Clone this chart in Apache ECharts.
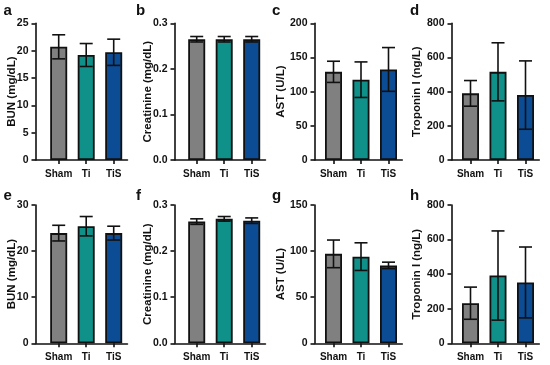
<!DOCTYPE html>
<html>
<head>
<meta charset="utf-8">
<script src="https://cdn.jsdelivr.net/npm/echarts@6/dist/echarts.min.js"></script>
<style>html,body{margin:0;padding:0;background:#fff}#c{width:550px;height:365px}</style>
</head>
<body>
<div id="c"></div>
<script>
// ---- data ----
const categories = ['Sham', 'Ti', 'TiS'];
const barColors = ['#808080', '#0f9189', '#0c4c94'];

const bunTopMean = [20.7, 19.2, 19.7];
const bunTopSD = [2.2, 2.1, 2.4];
const creaTopMean = [0.265, 0.265, 0.265];
const creaTopSD = [0.006, 0.006, 0.006];
const astTopMean = [129, 117.5, 132.5];
const astTopSD = [15.5, 26, 32];
const tropTopMean = [390, 516, 380];
const tropTopSD = [75, 170, 200];

const bunBotMean = [23.9, 25.4, 23.9];
const bunBotSD = [1.7, 2.1, 1.5];
const creaBotMean = [0.264, 0.270, 0.266];
const creaBotSD = [0.006, 0.005, 0.006];
const astBotMean = [97, 94, 84.5];
const astBotSD = [15, 15, 3.5];
const tropBotMean = [232, 392, 352];
const tropBotSD = [93, 258, 205];

const panelLetters = ['a', 'b', 'c', 'd', 'e', 'f', 'g', 'h'];
const yTitles = ['BUN (mg/dL)', 'Creatinine (mg/dL)', 'AST (U/L)', 'Troponin I (ng/L)',
                 'BUN (mg/dL)', 'Creatinine (mg/dL)', 'AST (U/L)', 'Troponin I (ng/L)'];
const yMax = [25, 0.3, 200, 800, 30, 0.3, 150, 800];
const yStep = [5, 0.1, 50, 200, 10, 0.1, 50, 200];
const yDecimals = [0, 1, 0, 0, 0, 1, 0, 0];
const means = [bunTopMean, creaTopMean, astTopMean, tropTopMean, bunBotMean, creaBotMean, astBotMean, tropBotMean];
const sds = [bunTopSD, creaTopSD, astTopSD, tropTopSD, bunBotSD, creaBotSD, astBotSD, tropBotSD];

// ---- layout ----
const FONT = '"Liberation Sans", Arial, Helvetica, sans-serif';
const axisX = [35.5, 174.5, 314.5, 451.5];
const firstCenter = [58.7, 196.7, 333.5, 470.5];
const band = 27.5;
const nameGaps = [18, 21, 27.5, 28.5];
const letterLeft = [3.5, 136, 272, 410];
const rowTop = [23.3, 205];
const rowBottom = [160, 343.3];
const letterTop = [3, 188.5];
const INK = '#111';

const grid = [], xAxis = [], yAxis = [], series = [], title = [];

for (let p = 0; p < 8; p++) {
  const col = p % 4, row = Math.floor(p / 4);
  const top = rowTop[row], h = rowBottom[row] - rowTop[row];
  const barsLeft = firstCenter[col] - band / 2;
  const barsW = band * 3;
  const axW = barsLeft + barsW - axisX[col];
  const gAx = grid.length;
  grid.push({left: axisX[col], top: top, width: axW, height: h, containLabel: false});
  grid.push({left: barsLeft, top: top, width: barsW, height: h, containLabel: false});
  const dec = yDecimals[p];
  xAxis.push({
    gridIndex: gAx, type: 'value', min: 0, max: 1,
    axisLine: {show: true, lineStyle: {color: INK, width: 1.6}},
    axisTick: {show: false}, axisLabel: {show: false}, splitLine: {show: false}
  });
  yAxis.push({
    gridIndex: gAx, type: 'value', min: 0, max: yMax[p], interval: yStep[p],
    axisLine: {show: true, lineStyle: {color: INK, width: 1.6}},
    axisTick: {show: true, length: 4, lineStyle: {color: INK, width: 1.6}},
    axisLabel: {show: true, margin: 7, color: INK, fontFamily: FONT, fontWeight: 'bold', fontSize: 10.5,
                formatter: v => v.toFixed(dec)},
    splitLine: {show: false},
    name: yTitles[p], nameLocation: 'middle', nameGap: nameGaps[col], nameMoveOverlap: false,
    nameTextStyle: {color: INK, fontFamily: FONT, fontWeight: 'bold', fontSize: 11.5}
  });
  xAxis.push({
    gridIndex: gAx + 1, type: 'category', data: categories,
    axisLine: {show: false},
    axisTick: {show: true, alignWithLabel: true, length: 4, lineStyle: {color: INK, width: 1.6}},
    axisLabel: {show: true, margin: 9, color: INK, fontFamily: FONT, fontWeight: 'bold', fontSize: 10, interval: 0},
    splitLine: {show: false}
  });
  yAxis.push({
    gridIndex: gAx + 1, type: 'value', min: 0, max: yMax[p], interval: yStep[p], show: false
  });
  const xi = xAxis.length - 1, yi = yAxis.length - 1;
  series.push({
    type: 'bar', xAxisIndex: xi, yAxisIndex: yi, barWidth: 17, z: 2,
    data: means[p].map((v, i) => ({value: v, itemStyle: {color: barColors[i]}})),
    itemStyle: {borderColor: INK, borderWidth: 1.8},
    animation: false, silent: true
  });
  series.push({
    type: 'custom', xAxisIndex: xi, yAxisIndex: yi, z: 5, animation: false, silent: true,
    data: means[p].map((v, i) => [i, v, sds[p][i]]),
    encode: {x: 0, y: 1},
    renderItem: function (params, api) {
      const i = api.value(0), m = api.value(1), s = api.value(2);
      const a = api.coord([i, m + s]);
      const b = api.coord([i, m - s]);
      const cw = 6.5;
      const st = {stroke: INK, lineWidth: 1.6};
      return {type: 'group', children: [
        {type: 'line', shape: {x1: a[0], y1: a[1], x2: b[0], y2: b[1]}, style: st},
        {type: 'line', shape: {x1: a[0] - cw, y1: a[1], x2: a[0] + cw, y2: a[1]}, style: st},
        {type: 'line', shape: {x1: b[0] - cw, y1: b[1], x2: b[0] + cw, y2: b[1]}, style: st}
      ]};
    }
  });
  title.push({
    text: panelLetters[p], left: letterLeft[col], top: letterTop[row], padding: 0,
    textStyle: {fontFamily: FONT, fontWeight: 'bold', fontSize: 15, color: INK}
  });
}

const chart = echarts.init(document.getElementById('c'), null, {renderer: 'canvas'});
chart.setOption({animation: false, backgroundColor: '#fff', title, grid, xAxis, yAxis, series});
</script>
</body>
</html>
